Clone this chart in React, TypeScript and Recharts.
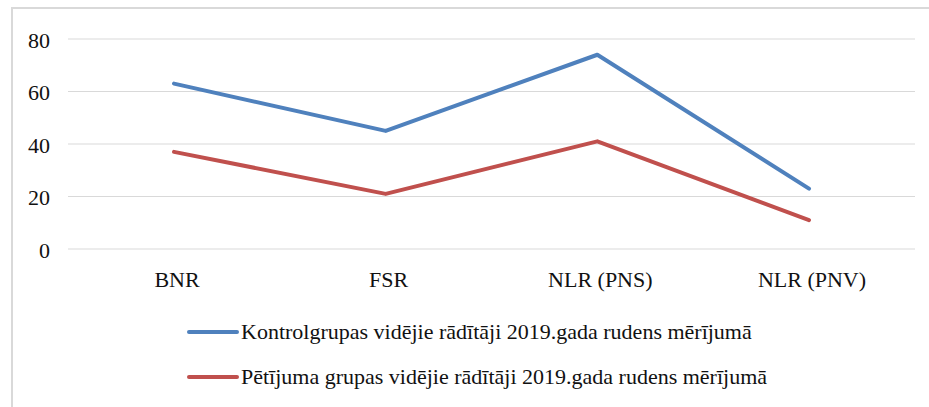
import React from 'react';
import { LineChart, Line, XAxis, YAxis, CartesianGrid } from 'recharts';

// measures along the x axis
const categories = ['BNR', 'FSR', 'NLR (PNS)', 'NLR (PNV)'];

// autumn 2019 averages
const controlValues = [63, 45, 74, 23];
const studyValues = [37, 21, 41, 11];

const yTicks = [0, 20, 40, 60, 80];

const seriesNames = [
  'Kontrolgrupas vidējie rādītāji 2019.gada rudens mērījumā',
  'Pētījuma grupas vidējie rādītāji 2019.gada rudens mērījumā',
];
const seriesColors = ['#4f81bd', '#c0504d'];

const FONT = '"Liberation Serif", "Times New Roman", serif';

export default function App() {
  const data = categories.map((name, i) => ({
    name,
    control: controlValues[i],
    study: studyValues[i],
  }));

  return (
    <div
      style={{
        position: 'absolute',
        left: 0,
        top: 0,
        width: 929,
        height: 407,
        background: '#fff',
        overflow: 'hidden',
        fontFamily: FONT,
      }}
    >
      {/* outer chart frame, right and bottom edges fall outside the crop */}
      <div
        style={{
          position: 'absolute',
          left: 11,
          top: 7,
          width: 940,
          height: 420,
          border: '2px solid #d9d9d9',
        }}
      />
      <LineChart
        width={929}
        height={407}
        data={data}
        margin={{ top: 39, right: 14, left: 8, bottom: 128 }}
        style={{ position: 'absolute', left: 0, top: 0 }}
      >
        <CartesianGrid vertical={false} stroke="#d9d9d9" strokeWidth={1.2} />
        <XAxis
          dataKey="name"
          axisLine={false}
          tickLine={false}
          tickSize={0}
          tickMargin={22}
          height={30}
          padding={{ left: 106, right: 106 }}
          tick={{ fill: '#111', fontSize: 22, fontFamily: FONT, dx: 3 }}
        />
        <YAxis
          domain={[0, 80]}
          ticks={yTicks}
          axisLine={false}
          tickLine={false}
          tickSize={0}
          tickMargin={18}
          width={60}
          tick={{ fill: '#111', fontSize: 22, fontFamily: FONT, dy: 1 }}
        />
        <Line
          type="linear"
          dataKey="control"
          name={seriesNames[0]}
          stroke={seriesColors[0]}
          strokeWidth={4}
          strokeLinecap="round"
          strokeLinejoin="round"
          dot={false}
          activeDot={false}
          isAnimationActive={false}
        />
        <Line
          type="linear"
          dataKey="study"
          name={seriesNames[1]}
          stroke={seriesColors[1]}
          strokeWidth={4}
          strokeLinecap="round"
          strokeLinejoin="round"
          dot={false}
          activeDot={false}
          isAnimationActive={false}
        />
      </LineChart>
      {/* legend */}
      {seriesNames.map((label, i) => (
        <div
          key={label}
          style={{
            position: 'absolute',
            left: 186,
            top: 318 + i * 45,
            height: 28,
            display: 'flex',
            alignItems: 'center',
            fontSize: 22,
            color: '#111',
            whiteSpace: 'nowrap',
          }}
        >
          <svg width={54} height={8} style={{ marginRight: 1 }}>
            <line
              x1={3}
              y1={4}
              x2={51}
              y2={4}
              stroke={seriesColors[i]}
              strokeWidth={4}
              strokeLinecap="round"
            />
          </svg>
          <span>{label}</span>
        </div>
      ))}
    </div>
  );
}
